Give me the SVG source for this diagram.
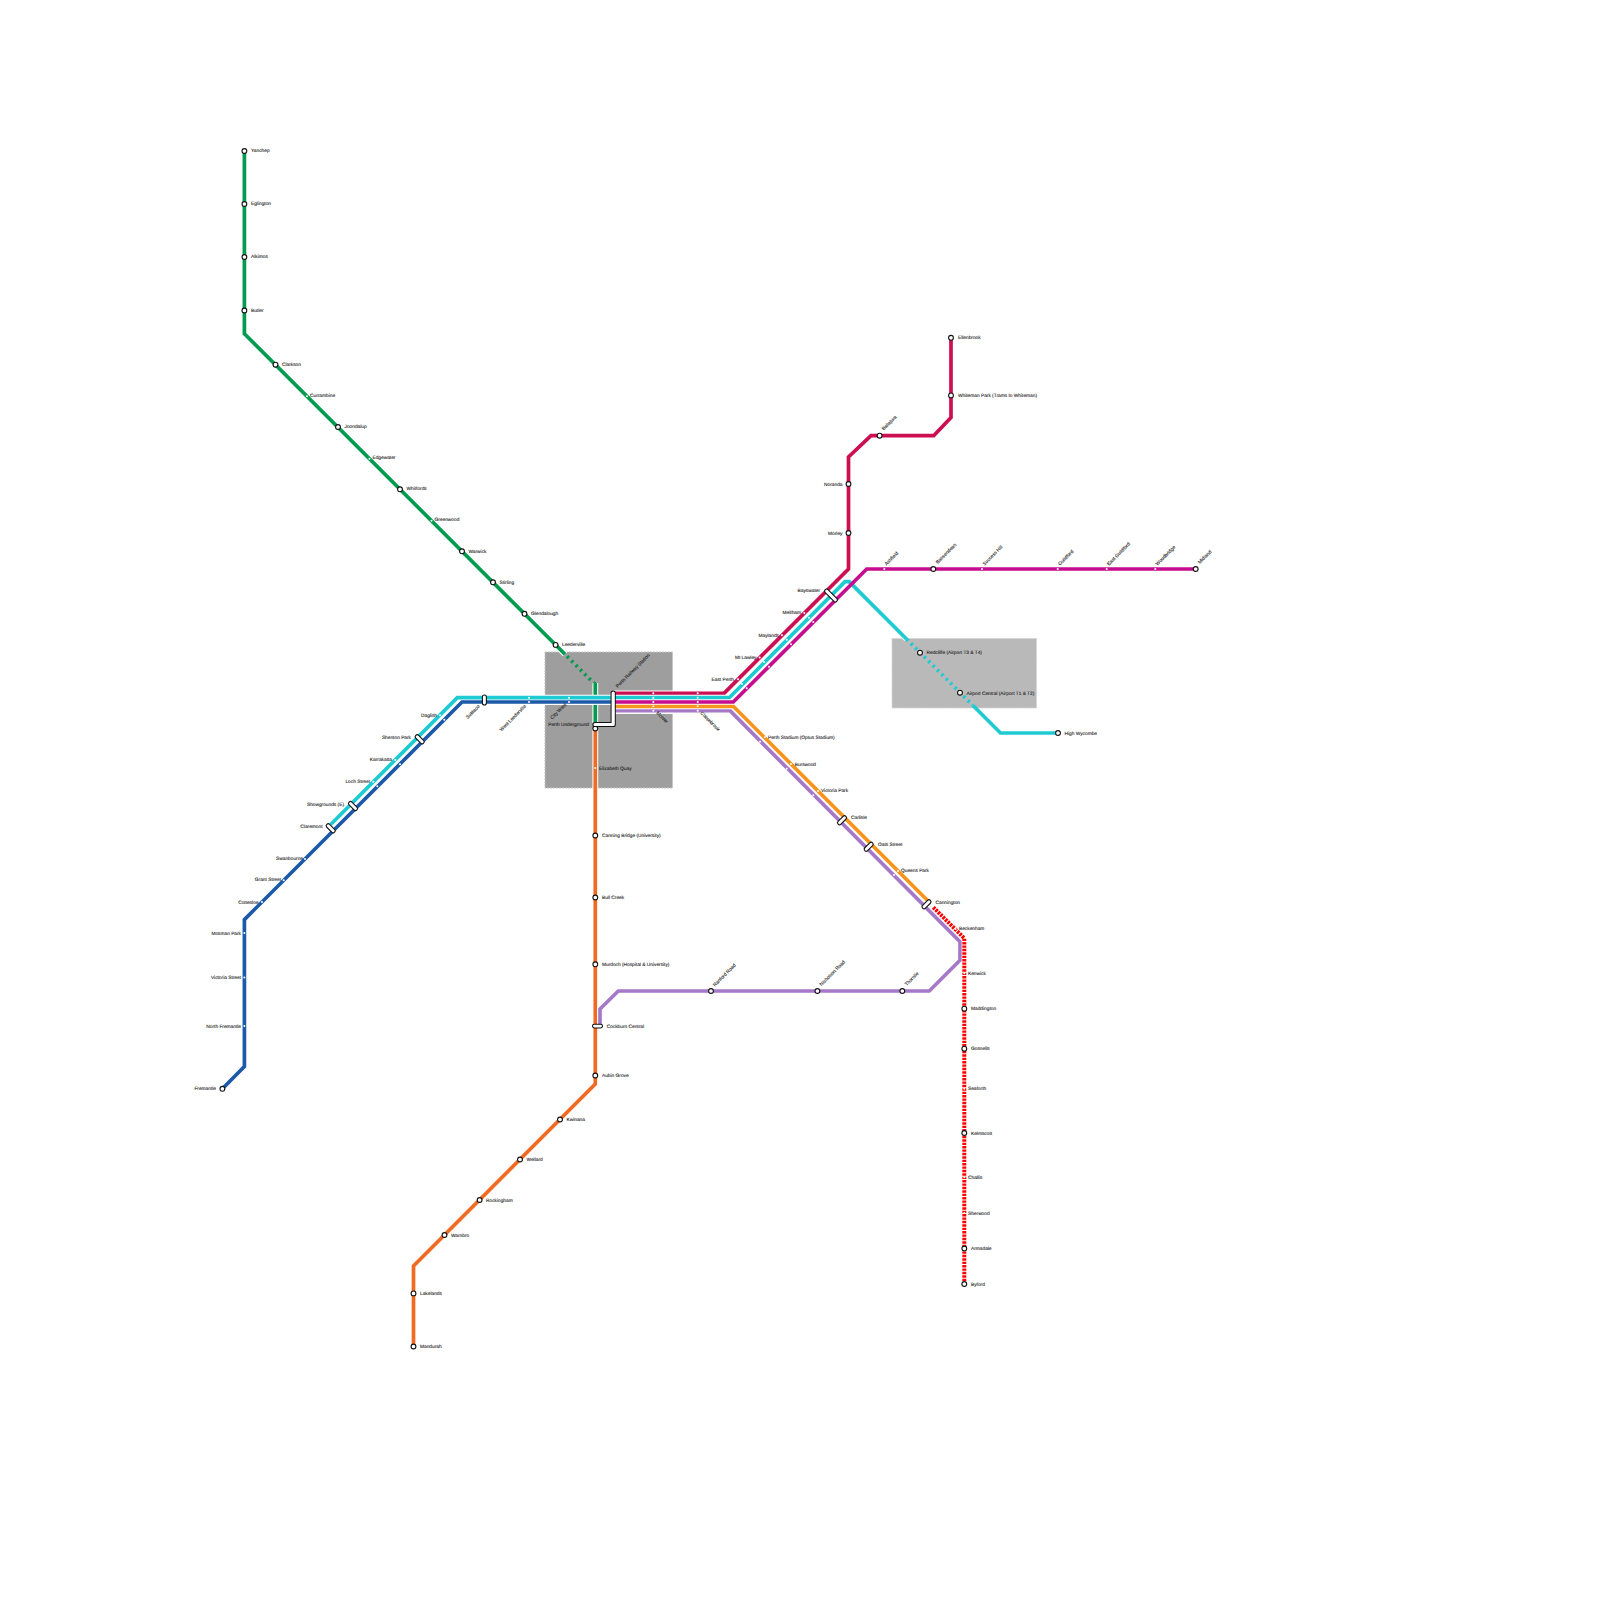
<svg xmlns="http://www.w3.org/2000/svg" width="1600" height="1600" viewBox="0 0 1600 1600">
<style>
.l{fill:none;stroke-width:3.7;stroke-linejoin:miter;stroke-linecap:butt}
.c{fill:none;stroke:#fff;stroke-width:5.8;stroke-linejoin:miter}
.g{stroke:#009b4e}.o{stroke:#f16a22}.p{stroke:#a678c8}.b{stroke:#1c59a8}.y{stroke:#1ecbd3}.r{stroke:#cc0f50}.m{stroke:#c70d8f}.n{stroke:#f7941d}.x{stroke:#ff0000}
.big{fill:#fff;stroke:#111;stroke-width:1.1}
.sm{fill:#fff}
.ic{fill:#fff;stroke:#111;stroke-width:1.1}
text{font-family:"Liberation Sans",Arial,sans-serif;font-size:4.8px;fill:#222;stroke:#222;stroke-width:.1;text-rendering:geometricPrecision;opacity:.99}
.e{text-anchor:end}
.zone{stroke-width:1;stroke-dasharray:2 1}
</style>
<g id="zones">
<rect x="545" y="652" width="127.5" height="136" fill="#9e9e9e" stroke="#c4c4c4" class="zone"/>
<rect x="892" y="638.5" width="144.5" height="69.5" fill="#b9b9b9" stroke="#d4d4d4" class="zone"/>
</g>
<g id="connectors">
<path class="c" d="M244.4 151V333.7L565 654.3"/><path class="l g" d="M244.4 151V333.7L565 654.3"/>
<path class="l g" stroke-dasharray="2.4 3.8" d="M567 656.3L595.3 684.6"/>
<path class="c" d="M595.3 683V723"/><path class="l g" d="M595.3 683V723"/>
<path class="c" d="M595.3 729V1084L413.5 1266V1346.5"/><path class="l o" d="M595.3 729V1084L413.5 1266V1346.5"/>
<path class="c" d="M600 1026V1009L618.3 991H929.3L960 960.3V941.7L730 711H613"/><path class="l p" d="M600 1026V1009L618.3 991H929.3L960 960.3V941.7L730 710.7H613"/>
<path class="c" d="M928.3 901.3L733.3 706.3H613"/><path class="l n" d="M928.3 901.3L733.3 706.3H613"/>
<path class="c" d="M330.7 824.5L457.3 697.7H613"/><path class="c" d="M222.4 1088.8L244.4 1066.5V919.6L462 702H613"/>
<path class="l y" d="M330.7 824.5L457.3 697.7H613"/>
<path class="l b" d="M222.4 1088.8L244.4 1066.5V919.6L462 702H613"/>
<path class="c" d="M613 693.3H724L848.5 569V457L871 435.7H933.7L951 417.5V337.8"/><path class="l r" d="M613 693.3H724L848.5 569V457L871 435.7H933.7L951 417.5V337.8"/>
<path class="c" d="M613 697.7H729.3L845 581.7H851L906.5 639"/><path class="l y" d="M613 697.7H729.3L845 581.7H849.2L906.5 639"/>
<path class="l y" stroke-dasharray="2.4 3.8" d="M906.5 639L973 705.5"/>
<path class="l y" d="M973 705.5L1000.5 733H1058"/>
<path class="c" d="M613 702H733.3L842 593.3M861 574.7L866.7 569H1195.7" style="stroke-width:5"/><path class="l m" d="M613 702H733.3L866.7 569H1195.7"/>
<path fill="none" stroke="#fff" stroke-width="5" d="M933.3 907.3L964.3 938.3V1283.7"/>
<path class="l x" stroke-dasharray="2.4 1" style="stroke-width:4" d="M933.3 907.3L964.3 938.3V1283.7"/>
</g>
<g id="stations-green">
<g id="yanchep"><circle class="big" cx="244.4" cy="151" r="2.4"/><text x="251" y="152.2">Yanchep</text></g>
<g id="eglington"><circle class="big" cx="244.4" cy="204" r="2.4"/><text x="251" y="205.2">Eglington</text></g>
<g id="alkimos"><circle class="big" cx="244.4" cy="257" r="2.4"/><text x="251" y="258.2">Alkimos</text></g>
<g id="butler"><circle class="big" cx="244.4" cy="310.5" r="2.4"/><text x="251" y="311.7">Butler</text></g>
<g id="clarkson"><circle class="big" cx="275.5" cy="364.7" r="2.4"/><text x="282" y="365.7">Clarkson</text></g>
<g id="currambine"><circle class="sm" cx="307" cy="396.3" r="1"/><text x="310" y="396.7">Currambine</text></g>
<g id="joondalup"><circle class="big" cx="338" cy="427" r="2.4"/><text x="344.5" y="428">Joondalup</text></g>
<g id="edgewater"><circle class="sm" cx="369.5" cy="458.8" r="1"/><text x="372.5" y="459">Edgewater</text></g>
<g id="whitfords"><circle class="big" cx="400" cy="489.3" r="2.4"/><text x="406.5" y="490">Whitfords</text></g>
<g id="greenwood"><circle class="sm" cx="431.5" cy="520.8" r="1"/><text x="434.5" y="521">Greenwood</text></g>
<g id="warwick"><circle class="big" cx="462" cy="551.3" r="2.4"/><text x="468.5" y="552.5">Warwick</text></g>
<g id="stirling"><circle class="big" cx="493" cy="582.3" r="2.4"/><text x="499.5" y="584">Stirling</text></g>
<g id="glendalough"><circle class="big" cx="524.5" cy="613.8" r="2.4"/><text x="531" y="614.8">Glendalough</text></g>
<g id="leederville"><circle class="big" cx="555.6" cy="644.9" r="2.4"/><text x="562" y="646">Leederville</text></g>
</g>
<g id="stations-orange">
<g id="perth-underground"><circle class="big" cx="595.3" cy="728.5" r="2.4"/><text class="e" x="589" y="725.8">Perth Underground</text></g>
<g id="elizabeth-quay"><circle class="sm" cx="595.3" cy="768" r="1"/><text x="599" y="769.7">Elizabeth Quay</text></g>
<g id="canning-bridge"><circle class="big" cx="595.3" cy="835.5" r="2.4"/><text x="602" y="836.6">Canning Bridge (University)</text></g>
<g id="bull-creek"><circle class="big" cx="595.3" cy="897.5" r="2.4"/><text x="602" y="898.8">Bull Creek</text></g>
<g id="murdoch"><circle class="big" cx="595.3" cy="964.3" r="2.4"/><text x="602" y="965.5">Murdoch (Hospital &amp; University)</text></g>
<g id="cockburn-central"><rect class="ic" x="592.5" y="1024.2" width="10" height="3.8" rx="1.9"/><text x="606.7" y="1027.8">Cockburn Central</text></g>
<g id="aubin-grove"><circle class="big" cx="595.3" cy="1075.5" r="2.4"/><text x="602" y="1076.8">Aubin Grove</text></g>
<g id="kwinana"><circle class="big" cx="560" cy="1119.5" r="2.4"/><text x="566.5" y="1121">Kwinana</text></g>
<g id="wellard"><circle class="big" cx="520" cy="1159.5" r="2.4"/><text x="526.5" y="1161">Wellard</text></g>
<g id="rockingham"><circle class="big" cx="479.6" cy="1200" r="2.4"/><text x="486" y="1201.5">Rockingham</text></g>
<g id="warnbro"><circle class="big" cx="444.5" cy="1235" r="2.4"/><text x="451" y="1236.5">Warnbro</text></g>
<g id="lakelands"><circle class="big" cx="413.5" cy="1293.4" r="2.4"/><text x="420" y="1294.8">Lakelands</text></g>
<g id="mandurah"><circle class="big" cx="413.5" cy="1346.5" r="2.4"/><text x="420" y="1348">Mandurah</text></g>
</g>
<g id="stations-purple">
<g id="ranford-road"><circle class="big" cx="711" cy="991" r="2.4"/><text transform="translate(715 986.7) rotate(-45)">Ranford Road</text></g>
<g id="nicholson-road"><circle class="big" cx="817.4" cy="991" r="2.4"/><text transform="translate(821.5 986.2) rotate(-45)">Nicholson Road</text></g>
<g id="thornlie"><circle class="big" cx="902.3" cy="991" r="2.4"/><text transform="translate(906.7 986) rotate(-45)">Thornlie</text></g>
<g id="stadium"><circle class="sm" cx="760" cy="741.7" r="1"/><circle class="sm" cx="765" cy="737" r="1"/><text x="768" y="739">Perth Stadium (Optus Stadium)</text></g>
<g id="burswood"><circle class="sm" cx="786.7" cy="768.7" r="1"/><circle class="sm" cx="791" cy="764" r="1"/><text x="794.7" y="765.7">Burswood</text></g>
<g id="victoria-park"><circle class="sm" cx="813.3" cy="795.3" r="1"/><circle class="sm" cx="818" cy="791" r="1"/><text x="821" y="792.3">Victoria Park</text></g>
<g id="carlisle"><rect class="ic" x="-5.5" y="-2" width="11" height="4" rx="2" transform="translate(842 820.3) rotate(-45)"/><text x="851" y="818.8">Carlisle</text></g>
<g id="oats-street"><rect class="ic" x="-5.5" y="-2" width="11" height="4" rx="2" transform="translate(868.7 846.7) rotate(-45)"/><text x="878" y="845.5">Oats Street</text></g>
<g id="queens-park"><circle class="sm" cx="894" cy="875" r="1"/><circle class="sm" cx="898" cy="871" r="1"/><text x="901" y="872">Queens Park</text></g>
<g id="cannington"><rect class="ic" x="-5.5" y="-2" width="11" height="4" rx="2" transform="translate(926.5 904.3) rotate(-45)"/><text x="935.5" y="903.6">Cannington</text></g>
</g>
<g id="stations-red">
<g id="beckenham"><circle class="sm" cx="955.7" cy="929" r="1"/><text x="959" y="930">Beckenham</text></g>
<g id="kenwick"><circle class="sm" cx="964.3" cy="973.3" r="1"/><text x="968" y="975">Kenwick</text></g>
<g id="maddington"><circle class="big" cx="964.3" cy="1008.7" r="2.4"/><text x="971" y="1010.3">Maddington</text></g>
<g id="gosnells"><circle class="big" cx="964.3" cy="1048.7" r="2.4"/><text x="971" y="1050.3">Gosnells</text></g>
<g id="seaforth"><circle class="sm" cx="964.3" cy="1088.8" r="1"/><text x="968" y="1090">Seaforth</text></g>
<g id="kelmscott"><circle class="big" cx="964.3" cy="1133" r="2.4"/><text x="971" y="1134.6">Kelmscott</text></g>
<g id="challis"><circle class="sm" cx="964.3" cy="1177.3" r="1"/><text x="968" y="1179">Challis</text></g>
<g id="sherwood"><circle class="sm" cx="964.3" cy="1213" r="1"/><text x="968" y="1214.7">Sherwood</text></g>
<g id="armadale"><circle class="big" cx="964.3" cy="1248.5" r="2.4"/><text x="971" y="1250">Armadale</text></g>
<g id="byford"><circle class="big" cx="964.3" cy="1284" r="2.4"/><text x="971" y="1285.6">Byford</text></g>
</g>
<g id="stations-blue">
<g id="fremantle"><circle class="big" cx="222.4" cy="1088.8" r="2.4"/><text class="e" x="216" y="1090.4">Fremantle</text></g>
<g id="north-fremantle"><circle class="sm" cx="244.4" cy="1026" r="1"/><text class="e" x="241" y="1027.7">North Fremantle</text></g>
<g id="victoria-street"><circle class="sm" cx="244.4" cy="977.6" r="1"/><text class="e" x="241" y="979.3">Victoria Street</text></g>
<g id="mosman-park"><circle class="sm" cx="244.4" cy="933" r="1"/><text class="e" x="241" y="934.7">Mosman Park</text></g>
<g id="cottesloe"><circle class="sm" cx="262" cy="902" r="1"/><text class="e" x="258.5" y="903.7">Cottesloe</text></g>
<g id="grant-street"><circle class="sm" cx="283.7" cy="880.3" r="1"/><text class="e" x="281" y="881">Grant Street</text></g>
<g id="swanbourne"><circle class="sm" cx="305" cy="859" r="1"/><text class="e" x="303" y="859.5">Swanbourne</text></g>
<g id="claremont"><rect class="ic" x="-5.5" y="-2" width="11" height="4" rx="2" transform="translate(330.7 828.3) rotate(45)"/><text class="e" x="322.5" y="827.7">Claremont</text></g>
<g id="showgrounds"><rect class="ic" x="-5.5" y="-2" width="11" height="4" rx="2" transform="translate(353 806) rotate(45)"/><text class="e" x="344" y="805.7">Showgrounds (E)</text></g>
<g id="loch-street"><circle class="sm" cx="373.3" cy="781.7" r="1"/><circle class="sm" cx="377.3" cy="786.3" r="1"/><text class="e" x="370" y="783.3">Loch Street</text></g>
<g id="karrakatta"><circle class="sm" cx="395.3" cy="760" r="1"/><circle class="sm" cx="400" cy="764.3" r="1"/><text class="e" x="392" y="761.2">Karrakatta</text></g>
<g id="shenton-park"><rect class="ic" x="-5.5" y="-2" width="11" height="4" rx="2" transform="translate(419.7 739.3) rotate(45)"/><text class="e" x="411" y="739">Shenton Park</text></g>
<g id="daglish"><circle class="sm" cx="440" cy="715.3" r="1"/><circle class="sm" cx="444.3" cy="719.7" r="1"/><text class="e" x="437" y="716.7">Daglish</text></g>
<g id="subiaco"><rect class="ic" x="482.4" y="695" width="4" height="10" rx="2"/><text class="e" transform="translate(480 706.7) rotate(-45)">Subiaco</text></g>
<g id="west-leederville"><circle class="sm" cx="529" cy="697.7" r="1"/><circle class="sm" cx="529" cy="702" r="1"/><text class="e" transform="translate(526.5 706.5) rotate(-45)">West Leederville</text></g>
<g id="city-west"><circle class="sm" cx="569" cy="697.7" r="1"/><circle class="sm" cx="569" cy="702" r="1"/><text class="e" transform="translate(566.7 705) rotate(-45)">City West</text></g>
</g>
<g id="stations-central">
<g id="perth-station"><path d="M595 724.5H613.2V693" fill="none" stroke="#111" stroke-width="5.2" stroke-linejoin="round" stroke-linecap="round"/><path d="M595 724.5H613.2V693" fill="none" stroke="#fff" stroke-width="3.2" stroke-linejoin="round" stroke-linecap="round"/><text transform="translate(617.7 688) rotate(-45)">Perth Railway Station</text></g>
<g id="mciver"><circle class="sm" cx="653.3" cy="693.3" r="1"/><circle class="sm" cx="653.3" cy="697.7" r="1"/><circle class="sm" cx="653.3" cy="702" r="1"/><circle class="sm" cx="653.3" cy="706.3" r="1"/><circle class="sm" cx="653.3" cy="710.7" r="1"/><text transform="translate(656 713.3) rotate(45)">McIver</text></g>
<g id="claisebrook"><circle class="sm" cx="697.7" cy="693.3" r="1"/><circle class="sm" cx="697.7" cy="697.7" r="1"/><circle class="sm" cx="697.7" cy="702" r="1"/><circle class="sm" cx="697.7" cy="706.3" r="1"/><circle class="sm" cx="697.7" cy="710.7" r="1"/><text transform="translate(700 713.3) rotate(45)">Claisebrook</text></g>
<g id="east-perth"><circle class="sm" cx="738" cy="679.3" r="1"/><circle class="sm" cx="742" cy="684" r="1"/><circle class="sm" cx="746.7" cy="688.3" r="1"/><text class="e" x="734" y="680.7">East Perth</text></g>
<g id="mt-lawley"><circle class="sm" cx="759.7" cy="657.5" r="1"/><circle class="sm" cx="764" cy="662" r="1"/><circle class="sm" cx="769" cy="666.7" r="1"/><text class="e" x="756.5" y="658.7">Mt Lawley</text></g>
<g id="maylands"><circle class="sm" cx="782" cy="635.3" r="1"/><circle class="sm" cx="786.7" cy="639.7" r="1"/><circle class="sm" cx="791" cy="644.3" r="1"/><text class="e" x="779" y="636.7">Maylands</text></g>
<g id="meltham"><circle class="sm" cx="804.3" cy="613" r="1"/><circle class="sm" cx="809" cy="617.7" r="1"/><circle class="sm" cx="813.3" cy="622" r="1"/><text class="e" x="801" y="614.2">Meltham</text></g>
<g id="bayswater"><rect class="ic" x="-8.2" y="-2" width="16.4" height="4" rx="2" transform="translate(831 595.5) rotate(45)"/><text class="e" x="820" y="592.2">Bayswater</text></g>
</g>
<g id="stations-crimson">
<g id="morley"><circle class="big" cx="848.5" cy="533" r="2.4"/><text class="e" x="842.5" y="534.7">Morley</text></g>
<g id="noranda"><circle class="big" cx="848.5" cy="484" r="2.4"/><text class="e" x="842.5" y="485.7">Noranda</text></g>
<g id="ballajura"><circle class="big" cx="879.6" cy="435.7" r="2.4"/><text transform="translate(883.7 430.6) rotate(-45)">Ballajura</text></g>
<g id="whiteman-park"><circle class="big" cx="951" cy="395.4" r="2.4"/><text x="958" y="396.8">Whiteman Park (Trams to Whiteman)</text></g>
<g id="ellenbrook"><circle class="big" cx="951" cy="337.8" r="2.4"/><text x="958" y="339">Ellenbrook</text></g>
</g>
<g id="stations-magenta">
<g id="ashfield"><circle class="sm" cx="884.3" cy="569" r="1"/><text transform="translate(886.5 565.7) rotate(-45)">Ashfield</text></g>
<g id="bassendean"><circle class="big" cx="933.3" cy="569" r="2.4"/><text transform="translate(937.7 564) rotate(-45)">Bassendean</text></g>
<g id="success-hill"><circle class="sm" cx="982" cy="569" r="1"/><text transform="translate(984.5 565.7) rotate(-45)">Success Hill</text></g>
<g id="guildford"><circle class="sm" cx="1057.7" cy="569" r="1"/><text transform="translate(1060 565.7) rotate(-45)">Guildford</text></g>
<g id="east-guildford"><circle class="sm" cx="1106.7" cy="569" r="1"/><text transform="translate(1109 565.7) rotate(-45)">East Guildford</text></g>
<g id="woodbridge"><circle class="sm" cx="1155.3" cy="569" r="1"/><text transform="translate(1157.5 565.7) rotate(-45)">Woodbridge</text></g>
<g id="midland"><circle class="big" cx="1195.7" cy="569" r="2.4"/><text transform="translate(1200 564) rotate(-45)">Midland</text></g>
</g>
<g id="stations-airport">
<g id="redcliffe"><circle class="big" cx="920" cy="652.7" r="2.4"/><text x="926.5" y="654.3">Redcliffe (Airport T3 &amp; T4)</text></g>
<g id="airport-central"><circle class="big" cx="960" cy="692.7" r="2.4"/><text x="966.5" y="694.5">Airport Central (Airport T1 &amp; T2)</text></g>
<g id="high-wycombe"><circle class="big" cx="1058" cy="733" r="2.4"/><text x="1064.5" y="734.6">High Wycombe</text></g>
</g>
</svg>
